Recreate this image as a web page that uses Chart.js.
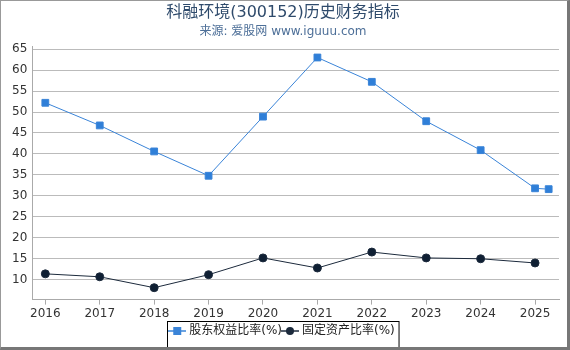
<!DOCTYPE html>
<html>
<head>
<meta charset="utf-8">
<script src="https://cdn.jsdelivr.net/npm/chart.js@4"></script>
<style>
    body { margin: 0; background: #fff; }
    #wrap {
        width: 566px; height: 346px;
        border-left: 1px solid #999; border-top: 1px solid #999;
        border-right: 3px solid #777; border-bottom: 3px solid #777;
    }
</style>
</head>
<body>
<div id="wrap"><canvas id="chart" width="566" height="346"></canvas></div>
<script>
// Data
const years = [2016, 2017, 2018, 2019, 2020, 2021, 2022, 2023, 2024, 2025];
const equityX = [2016, 2017, 2018, 2019, 2020, 2021, 2022, 2023, 2024, 2025, 2025.25];
const equityRatio = [52.2, 46.8, 40.6, 34.8, 48.9, 63.0, 57.2, 47.8, 40.9, 31.8, 31.6];
const fixedAssetRatio = [11.4, 10.7, 8.1, 11.2, 15.2, 12.8, 16.6, 15.2, 15.0, 14.0];
const yTicks = [10, 15, 20, 25, 30, 35, 40, 45, 50, 55, 60, 65];

const FONT = '"DejaVu Sans", "Noto Sans CJK SC", sans-serif';

// legend icon: short line with a marker in the middle
function legendIcon(color, square) {
    const c = document.createElement('canvas');
    c.width = 18; c.height = 10;
    const g = c.getContext('2d');
    g.strokeStyle = color;
    g.lineWidth = 1.5;
    g.beginPath(); g.moveTo(0, 5); g.lineTo(18, 5); g.stroke();
    g.fillStyle = color;
    if (square) {
        g.fillRect(5, 1, 8, 8);
    } else {
        g.beginPath(); g.arc(9, 5, 4, 0, Math.PI * 2); g.fill();
    }
    return c;
}

// frame around the legend items only
const legendBorder = {
    id: 'legendBorder',
    afterDraw(chart) {
        const l = chart.legend;
        if (!l || !l.legendHitBoxes.length) return;
        const boxes = l.legendHitBoxes;
        const left = Math.min(...boxes.map(b => b.left)) - 4;
        const right = Math.max(...boxes.map(b => b.left + b.width)) + 4;
        const top = Math.min(...boxes.map(b => b.top)) - 4;
        const ctx = chart.ctx;
        ctx.save();
        ctx.strokeStyle = '#000';
        ctx.lineWidth = 1;
        ctx.strokeRect(Math.round(left) + 0.5, Math.round(top) + 0.5, right - left, 30);
        ctx.restore();
    }
};

new Chart(document.getElementById('chart'), {
    type: 'line',
    data: {
        datasets: [{
            label: '股东权益比率(%)',
            data: equityX.map((x, i) => ({ x: x, y: equityRatio[i] })),
            borderColor: '#3a84d8',
            backgroundColor: '#2f7fd8',
            borderWidth: 1,
            pointStyle: 'rect',
            pointRadius: 4.8,
            pointHoverRadius: 4.8,
            tension: 0
        }, {
            label: '固定资产比率(%)',
            data: years.map((x, i) => ({ x: x, y: fixedAssetRatio[i] })),
            borderColor: '#1c2a3c',
            backgroundColor: '#0f1f33',
            borderWidth: 1,
            pointStyle: 'circle',
            pointRadius: 4,
            pointHoverRadius: 4,
            tension: 0
        }]
    },
    options: {
        responsive: false,
        animation: false,
        layout: { padding: { left: 6, right: 8, top: 1, bottom: 0 } },
        plugins: {
            title: {
                display: true,
                text: '科融环境(300152)历史财务指标',
                color: '#2e4a6b',
                font: { family: FONT, size: 16, weight: 'normal' },
                padding: { top: 1, bottom: 2 }
            },
            subtitle: {
                display: true,
                text: '来源: 爱股网 www.iguuu.com',
                color: '#4d6f98',
                font: { family: FONT, size: 12 },
                padding: { top: 0, bottom: 8 }
            },
            legend: {
                position: 'bottom',
                labels: {
                    color: '#222',
                    font: { family: FONT, size: 12 },
                    usePointStyle: true,
                    padding: 2,
                    generateLabels(chart) {
                        return chart.data.datasets.map((ds, i) => ({
                            text: ds.label,
                            pointStyle: legendIcon(ds.borderColor, i === 0),
                            fillStyle: ds.backgroundColor,
                            strokeStyle: ds.borderColor,
                            lineWidth: 0,
                            fontColor: '#222',
                            datasetIndex: i
                        }));
                    }
                }
            },
            tooltip: { enabled: false }
        },
        scales: {
            x: {
                type: 'linear',
                min: 2015.76,
                max: 2025.44,
                afterBuildTicks(axis) {
                    axis.ticks = years.map(v => ({ value: v }));
                },
                ticks: {
                    color: '#333',
                    font: { family: FONT, size: 12 },
                    maxRotation: 0,
                    padding: 2,
                    callback: v => String(v)
                },
                grid: { drawOnChartArea: false, color: '#aaa', tickLength: 5 },
                border: { color: '#aaa' }
            },
            y: {
                min: 5.26,
                max: 65.6,
                afterBuildTicks(axis) {
                    axis.ticks = yTicks.map(v => ({ value: v }));
                },
                ticks: {
                    color: '#333',
                    font: { family: FONT, size: 12 },
                    padding: 5
                },
                grid: { color: '#bbb', drawTicks: false },
                border: { color: '#aaa' }
            }
        }
    },
    plugins: [legendBorder]
});
</script>
</body>
</html>
